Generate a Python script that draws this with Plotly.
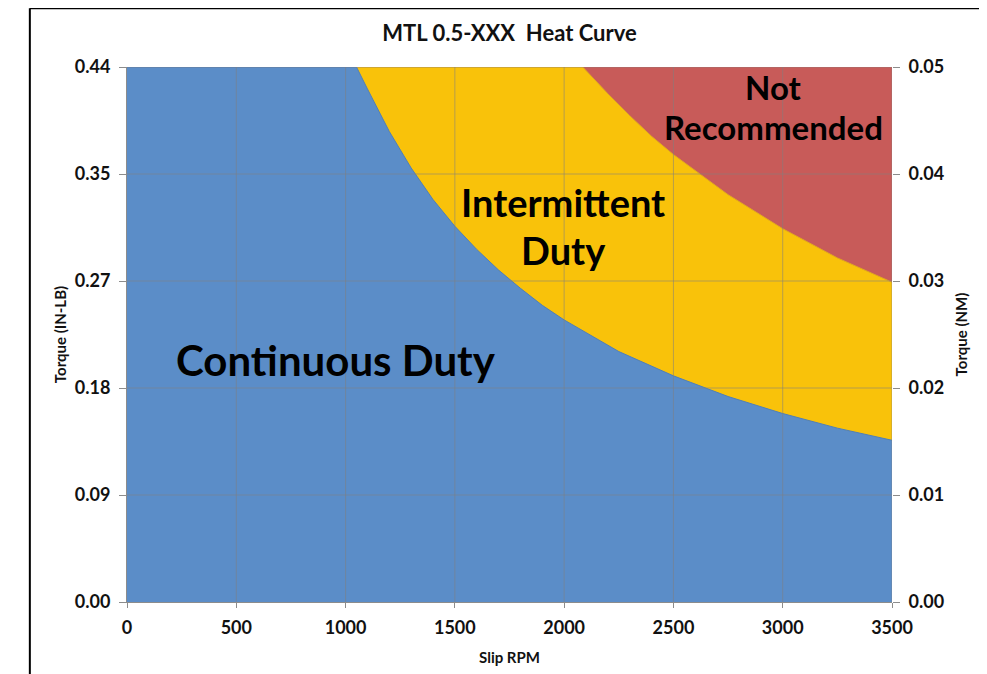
import plotly.graph_objects as go

# ---- data ----
cont_rpm = [0, 1050, 1100, 1200, 1300, 1400, 1500, 1600, 1700, 1800, 1900, 2000,
            2250, 2500, 2750, 3000, 3250, 3500]
cont_torque = [0.44, 0.44, 0.422, 0.387, 0.357, 0.331, 0.309, 0.290, 0.273, 0.258,
               0.244, 0.232, 0.206, 0.186, 0.169, 0.155, 0.143, 0.133]

inter_rpm = [0, 2085, 2200, 2300, 2400, 2500, 2750, 3000, 3250, 3500]
inter_torque = [0.44, 0.44, 0.418, 0.400, 0.383, 0.368, 0.335, 0.307, 0.283, 0.263]

x_ticks = [0, 500, 1000, 1500, 2000, 2500, 3000, 3500]
y_ticks_inlb = [0, 0.088, 0.176, 0.264, 0.352, 0.44]
y_ticktext_inlb = ["0.00", "0.09", "0.18", "0.27", "0.35", "0.44"]
y_ticks_nm = [0, 0.01, 0.02, 0.03, 0.04, 0.05]

BLUE = "#5B8DC8"
YELLOW = "#F9C20A"
RED = "#C85B59"
GRID = "rgba(128,128,128,0.55)"
FONT = "Lato"

fig = go.Figure()
fig.add_trace(go.Scatter(x=inter_rpm, y=inter_torque, mode="lines", fill="tozeroy",
                         fillcolor=YELLOW, line=dict(color="#E0A820", width=1),
                         hoverinfo="skip", showlegend=False))
fig.add_trace(go.Scatter(x=cont_rpm, y=cont_torque, mode="lines", fill="tozeroy",
                         fillcolor=BLUE, line=dict(color="#4F7FB8", width=1),
                         hoverinfo="skip", showlegend=False))

shapes = []
for xv in x_ticks[1:]:
    shapes.append(dict(type="line", xref="x", yref="paper", x0=xv, x1=xv, y0=0, y1=1,
                       line=dict(color=GRID, width=1), layer="above"))
for yv in y_ticks_inlb[1:]:
    shapes.append(dict(type="line", xref="paper", yref="y", x0=0, x1=1, y0=yv, y1=yv,
                       line=dict(color=GRID, width=1), layer="above"))
# outer frame (top and left edges)
shapes.append(dict(type="line", xref="paper", yref="paper", x0=-0.127, x1=1.12,
                   y0=1.11, y1=1.11, line=dict(color="black", width=2)))
shapes.append(dict(type="line", xref="paper", yref="paper", x0=-0.127, x1=-0.127,
                   y0=1.11, y1=-0.14, line=dict(color="black", width=2)))

ann_font = lambda s: dict(family=FONT, size=s, color="black", weight="bold")
annotations = [
    dict(x=957, y=0.199, text="Continuous Duty", showarrow=False, font=ann_font(42)),
    dict(x=1996, y=0.329, text="Intermittent", showarrow=False, font=ann_font(38)),
    dict(x=1996, y=0.2895, text="Duty", showarrow=False, font=ann_font(38)),
    dict(x=2956, y=0.4236, text="Not", showarrow=False, font=ann_font(33)),
    dict(x=2956, y=0.3906, text="Recommended", showarrow=False, font=ann_font(33)),
]

tickfont = dict(family=FONT, size=18, color="#111111", weight="bold")
titlefont = dict(family=FONT, size=15, color="#111111", weight="bold")

fig.update_layout(
    width=979, height=666,
    margin=dict(l=119, r=95, t=59, b=72),
    paper_bgcolor="white",
    plot_bgcolor=RED,
    title=dict(text="MTL 0.5-XXX  Heat Curve", x=0.5, xref="paper", y=0.962, yanchor="middle",
               font=dict(family=FONT, size=22, color="#111111", weight="bold")),
    xaxis=dict(range=[0, 3500], tickvals=x_ticks, showgrid=False, zeroline=False,
               showline=True, linecolor="#8c8c8c", ticks="outside", ticklen=5,
               tickcolor="#8c8c8c", tickfont=tickfont, ticklabelstandoff=4,
               title=dict(text="Slip RPM", font=titlefont, standoff=15)),
    yaxis=dict(range=[0, 0.44], tickvals=y_ticks_inlb, ticktext=y_ticktext_inlb,
               showgrid=False, zeroline=False, showline=True, linecolor="#8c8c8c",
               ticks="outside", ticklen=7, tickcolor="#8c8c8c", tickfont=tickfont,
               ticklabelstandoff=5,
               title=dict(text="Torque (IN-LB)", font=titlefont, standoff=4)),
    yaxis2=dict(range=[0, 0.05], tickvals=y_ticks_nm, tickformat=".2f", overlaying="y",
                side="right", showgrid=False, zeroline=False, showline=False,
                ticks="outside", ticklen=7, tickcolor="#8c8c8c", tickfont=tickfont,
                ticklabelstandoff=5,
                title=dict(text="Torque (NM)", font=titlefont, standoff=13)),
    shapes=shapes,
    annotations=annotations,
    showlegend=False,
)
fig.add_trace(go.Scatter(x=[None], y=[None], yaxis="y2", showlegend=False, hoverinfo="skip"))

fig.write_html("out.html")
